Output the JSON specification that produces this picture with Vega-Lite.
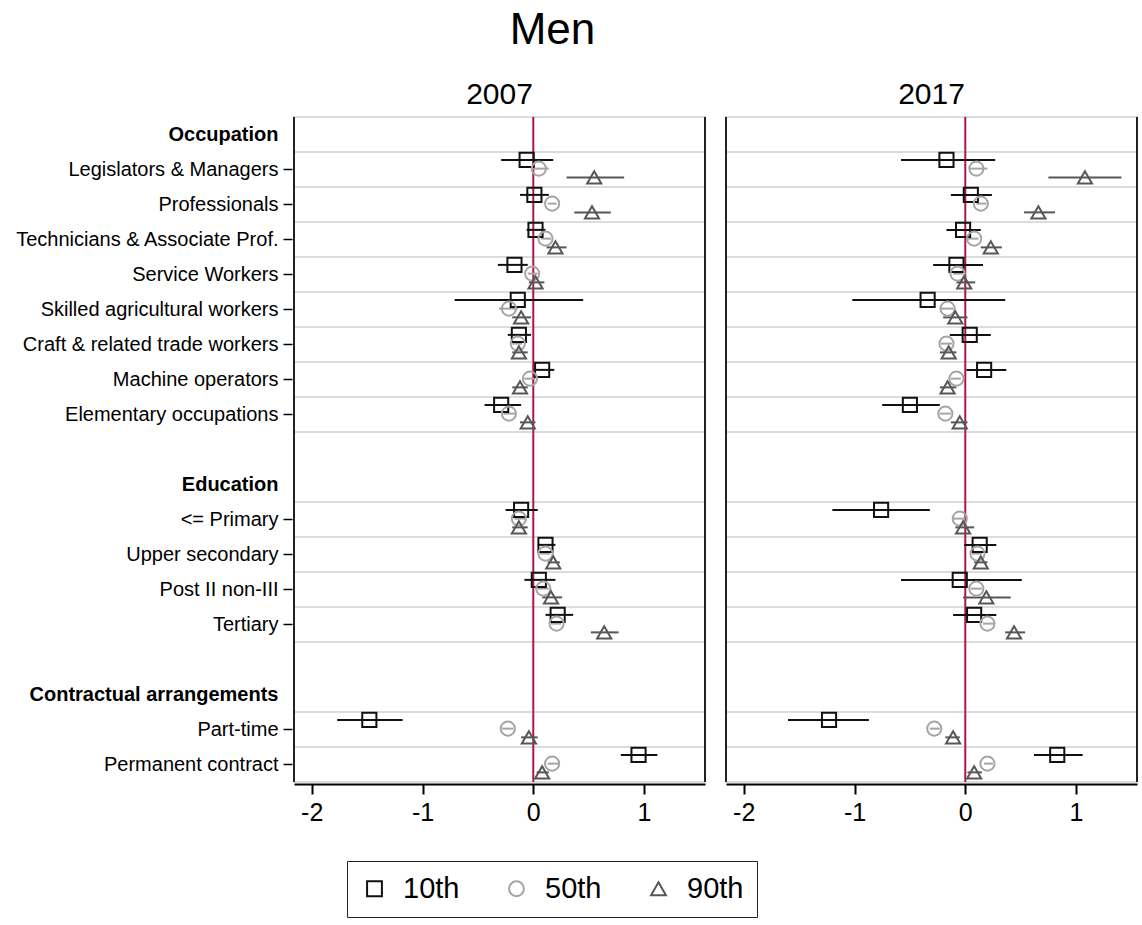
{
  "$schema": "https://vega.github.io/schema/vega-lite/v6.json",
  "padding": {"left": 10, "top": 9, "right": 3, "bottom": 0},
  "title": {"text": "Men", "fontSize": 44, "font": "Liberation Sans, sans-serif", "fontWeight": "normal", "anchor": "middle", "dx": -22, "offset": 27, "color": "black"},
  "config": {"font": "Liberation Sans, sans-serif", "view": {"stroke": "#dddddd", "strokeWidth": 2}},
  "data": {"values": [
    {"year": "2007", "cat": "Legislators & Managers", "pct": "10th", "est": -0.06, "lo": -0.29, "hi": 0.18},
    {"year": "2007", "cat": "Legislators & Managers", "pct": "50th", "est": 0.05, "lo": -0.01, "hi": 0.14},
    {"year": "2007", "cat": "Legislators & Managers", "pct": "90th", "est": 0.55, "lo": 0.30, "hi": 0.82},
    {"year": "2007", "cat": "Professionals", "pct": "10th", "est": 0.01, "lo": -0.12, "hi": 0.14},
    {"year": "2007", "cat": "Professionals", "pct": "50th", "est": 0.17, "lo": 0.13, "hi": 0.21},
    {"year": "2007", "cat": "Professionals", "pct": "90th", "est": 0.53, "lo": 0.37, "hi": 0.70},
    {"year": "2007", "cat": "Technicians & Associate Prof.", "pct": "10th", "est": 0.02, "lo": -0.06, "hi": 0.11},
    {"year": "2007", "cat": "Technicians & Associate Prof.", "pct": "50th", "est": 0.11, "lo": 0.07, "hi": 0.16},
    {"year": "2007", "cat": "Technicians & Associate Prof.", "pct": "90th", "est": 0.20, "lo": 0.12, "hi": 0.30},
    {"year": "2007", "cat": "Service Workers", "pct": "10th", "est": -0.17, "lo": -0.32, "hi": -0.05},
    {"year": "2007", "cat": "Service Workers", "pct": "50th", "est": -0.01, "lo": -0.05, "hi": 0.04},
    {"year": "2007", "cat": "Service Workers", "pct": "90th", "est": 0.02, "lo": -0.04, "hi": 0.10},
    {"year": "2007", "cat": "Skilled agricultural workers", "pct": "10th", "est": -0.14, "lo": -0.71, "hi": 0.45},
    {"year": "2007", "cat": "Skilled agricultural workers", "pct": "50th", "est": -0.22, "lo": -0.31, "hi": -0.14},
    {"year": "2007", "cat": "Skilled agricultural workers", "pct": "90th", "est": -0.11, "lo": -0.19, "hi": -0.02},
    {"year": "2007", "cat": "Craft & related trade workers", "pct": "10th", "est": -0.13, "lo": -0.23, "hi": -0.02},
    {"year": "2007", "cat": "Craft & related trade workers", "pct": "50th", "est": -0.14, "lo": -0.19, "hi": -0.10},
    {"year": "2007", "cat": "Craft & related trade workers", "pct": "90th", "est": -0.13, "lo": -0.19, "hi": -0.05},
    {"year": "2007", "cat": "Machine operators", "pct": "10th", "est": 0.08, "lo": 0.01, "hi": 0.19},
    {"year": "2007", "cat": "Machine operators", "pct": "50th", "est": -0.03, "lo": -0.08, "hi": 0.02},
    {"year": "2007", "cat": "Machine operators", "pct": "90th", "est": -0.12, "lo": -0.19, "hi": -0.05},
    {"year": "2007", "cat": "Elementary occupations", "pct": "10th", "est": -0.29, "lo": -0.44, "hi": -0.11},
    {"year": "2007", "cat": "Elementary occupations", "pct": "50th", "est": -0.22, "lo": -0.27, "hi": -0.16},
    {"year": "2007", "cat": "Elementary occupations", "pct": "90th", "est": -0.05, "lo": -0.12, "hi": 0.02},
    {"year": "2007", "cat": "<= Primary", "pct": "10th", "est": -0.11, "lo": -0.25, "hi": 0.04},
    {"year": "2007", "cat": "<= Primary", "pct": "50th", "est": -0.13, "lo": -0.17, "hi": -0.07},
    {"year": "2007", "cat": "<= Primary", "pct": "90th", "est": -0.13, "lo": -0.19, "hi": -0.05},
    {"year": "2007", "cat": "Upper secondary", "pct": "10th", "est": 0.11, "lo": 0.04, "hi": 0.20},
    {"year": "2007", "cat": "Upper secondary", "pct": "50th", "est": 0.11, "lo": 0.06, "hi": 0.15},
    {"year": "2007", "cat": "Upper secondary", "pct": "90th", "est": 0.18, "lo": 0.13, "hi": 0.24},
    {"year": "2007", "cat": "Post II non-III", "pct": "10th", "est": 0.05, "lo": -0.08, "hi": 0.20},
    {"year": "2007", "cat": "Post II non-III", "pct": "50th", "est": 0.09, "lo": 0.04, "hi": 0.14},
    {"year": "2007", "cat": "Post II non-III", "pct": "90th", "est": 0.16, "lo": 0.08, "hi": 0.26},
    {"year": "2007", "cat": "Tertiary", "pct": "10th", "est": 0.22, "lo": 0.11, "hi": 0.36},
    {"year": "2007", "cat": "Tertiary", "pct": "50th", "est": 0.21, "lo": 0.16, "hi": 0.25},
    {"year": "2007", "cat": "Tertiary", "pct": "90th", "est": 0.64, "lo": 0.52, "hi": 0.77},
    {"year": "2007", "cat": "Part-time", "pct": "10th", "est": -1.48, "lo": -1.77, "hi": -1.18},
    {"year": "2007", "cat": "Part-time", "pct": "50th", "est": -0.23, "lo": -0.28, "hi": -0.18},
    {"year": "2007", "cat": "Part-time", "pct": "90th", "est": -0.04, "lo": -0.11, "hi": 0.04},
    {"year": "2007", "cat": "Permanent contract", "pct": "10th", "est": 0.95, "lo": 0.79, "hi": 1.12},
    {"year": "2007", "cat": "Permanent contract", "pct": "50th", "est": 0.17, "lo": 0.13, "hi": 0.23},
    {"year": "2007", "cat": "Permanent contract", "pct": "90th", "est": 0.08, "lo": 0.03, "hi": 0.14},
    {"year": "2017", "cat": "Legislators & Managers", "pct": "10th", "est": -0.17, "lo": -0.58, "hi": 0.27},
    {"year": "2017", "cat": "Legislators & Managers", "pct": "50th", "est": 0.10, "lo": 0.04, "hi": 0.20},
    {"year": "2017", "cat": "Legislators & Managers", "pct": "90th", "est": 1.08, "lo": 0.75, "hi": 1.41},
    {"year": "2017", "cat": "Professionals", "pct": "10th", "est": 0.05, "lo": -0.13, "hi": 0.24},
    {"year": "2017", "cat": "Professionals", "pct": "50th", "est": 0.14, "lo": 0.10, "hi": 0.19},
    {"year": "2017", "cat": "Professionals", "pct": "90th", "est": 0.66, "lo": 0.53, "hi": 0.81},
    {"year": "2017", "cat": "Technicians & Associate Prof.", "pct": "10th", "est": -0.02, "lo": -0.17, "hi": 0.14},
    {"year": "2017", "cat": "Technicians & Associate Prof.", "pct": "50th", "est": 0.08, "lo": 0.02, "hi": 0.12},
    {"year": "2017", "cat": "Technicians & Associate Prof.", "pct": "90th", "est": 0.23, "lo": 0.14, "hi": 0.33},
    {"year": "2017", "cat": "Service Workers", "pct": "10th", "est": -0.08, "lo": -0.29, "hi": 0.16},
    {"year": "2017", "cat": "Service Workers", "pct": "50th", "est": -0.07, "lo": -0.11, "hi": -0.02},
    {"year": "2017", "cat": "Service Workers", "pct": "90th", "est": -0.01, "lo": -0.08, "hi": 0.09},
    {"year": "2017", "cat": "Skilled agricultural workers", "pct": "10th", "est": -0.34, "lo": -1.02, "hi": 0.36},
    {"year": "2017", "cat": "Skilled agricultural workers", "pct": "50th", "est": -0.16, "lo": -0.22, "hi": -0.11},
    {"year": "2017", "cat": "Skilled agricultural workers", "pct": "90th", "est": -0.09, "lo": -0.20, "hi": 0.02},
    {"year": "2017", "cat": "Craft & related trade workers", "pct": "10th", "est": 0.04, "lo": -0.14, "hi": 0.23},
    {"year": "2017", "cat": "Craft & related trade workers", "pct": "50th", "est": -0.17, "lo": -0.22, "hi": -0.12},
    {"year": "2017", "cat": "Craft & related trade workers", "pct": "90th", "est": -0.15, "lo": -0.23, "hi": -0.08},
    {"year": "2017", "cat": "Machine operators", "pct": "10th", "est": 0.17, "lo": 0.01, "hi": 0.37},
    {"year": "2017", "cat": "Machine operators", "pct": "50th", "est": -0.08, "lo": -0.13, "hi": -0.04},
    {"year": "2017", "cat": "Machine operators", "pct": "90th", "est": -0.16, "lo": -0.23, "hi": -0.08},
    {"year": "2017", "cat": "Elementary occupations", "pct": "10th", "est": -0.50, "lo": -0.75, "hi": -0.23},
    {"year": "2017", "cat": "Elementary occupations", "pct": "50th", "est": -0.18, "lo": -0.23, "hi": -0.13},
    {"year": "2017", "cat": "Elementary occupations", "pct": "90th", "est": -0.05, "lo": -0.13, "hi": 0.02},
    {"year": "2017", "cat": "<= Primary", "pct": "10th", "est": -0.76, "lo": -1.20, "hi": -0.32},
    {"year": "2017", "cat": "<= Primary", "pct": "50th", "est": -0.05, "lo": -0.11, "hi": 0.00},
    {"year": "2017", "cat": "<= Primary", "pct": "90th", "est": -0.02, "lo": -0.09, "hi": 0.08},
    {"year": "2017", "cat": "Upper secondary", "pct": "10th", "est": 0.13, "lo": -0.01, "hi": 0.28},
    {"year": "2017", "cat": "Upper secondary", "pct": "50th", "est": 0.11, "lo": 0.06, "hi": 0.15},
    {"year": "2017", "cat": "Upper secondary", "pct": "90th", "est": 0.14, "lo": 0.08, "hi": 0.20},
    {"year": "2017", "cat": "Post II non-III", "pct": "10th", "est": -0.05, "lo": -0.58, "hi": 0.51},
    {"year": "2017", "cat": "Post II non-III", "pct": "50th", "est": 0.10, "lo": 0.05, "hi": 0.15},
    {"year": "2017", "cat": "Post II non-III", "pct": "90th", "est": 0.19, "lo": -0.02, "hi": 0.41},
    {"year": "2017", "cat": "Tertiary", "pct": "10th", "est": 0.08, "lo": -0.11, "hi": 0.28},
    {"year": "2017", "cat": "Tertiary", "pct": "50th", "est": 0.20, "lo": 0.16, "hi": 0.26},
    {"year": "2017", "cat": "Tertiary", "pct": "90th", "est": 0.44, "lo": 0.36, "hi": 0.54},
    {"year": "2017", "cat": "Part-time", "pct": "10th", "est": -1.23, "lo": -1.60, "hi": -0.87},
    {"year": "2017", "cat": "Part-time", "pct": "50th", "est": -0.28, "lo": -0.32, "hi": -0.23},
    {"year": "2017", "cat": "Part-time", "pct": "90th", "est": -0.11, "lo": -0.18, "hi": -0.05},
    {"year": "2017", "cat": "Permanent contract", "pct": "10th", "est": 0.83, "lo": 0.62, "hi": 1.06},
    {"year": "2017", "cat": "Permanent contract", "pct": "50th", "est": 0.20, "lo": 0.17, "hi": 0.25},
    {"year": "2017", "cat": "Permanent contract", "pct": "90th", "est": 0.08, "lo": 0.02, "hi": 0.15}
  ]},
  "facet": {"column": {"field": "year", "type": "nominal", "header": {"title": null, "labelFontSize": 30, "labelPadding": 5, "labelColor": "black"}}},
  "spacing": 17,
  "spec": {
    "width": 411,
    "height": 665,
    "layer": [
      {
        "transform": [{"filter": "datum.pct == '10th'"}],
        "mark": {"type": "rule", "color": "#dcdcdc", "strokeWidth": 2},
        "encoding": {
          "y": {"field": "cat", "type": "nominal", "bandPosition": 0, "title": null,
            "scale": {"domain": ["Occupation", "Legislators & Managers", "Professionals", "Technicians & Associate Prof.", "Service Workers", "Skilled agricultural workers", "Craft & related trade workers", "Machine operators", "Elementary occupations", " ", "Education", "<= Primary", "Upper secondary", "Post II non-III", "Tertiary", "  ", "Contractual arrangements", "Part-time", "Permanent contract"], "paddingInner": 0, "paddingOuter": 0},
            "axis": {"title": null, "domain": false, "grid": false, "tickSize": 9, "tickWidth": 1.5, "tickColor": "black",
              "tickOpacity": {"condition": {"test": "indexof(['Occupation','Education','Contractual arrangements',' ','  '], datum.value) >= 0", "value": 0}, "value": 1},
              "labelFontWeight": {"condition": {"test": "indexof(['Occupation','Education','Contractual arrangements'], datum.value) >= 0", "value": "bold"}, "value": "normal"},
              "labelFontSize": 20, "labelColor": "black", "labelPadding": 5, "minExtent": 282, "maxExtent": 282, "labelLimit": 400}}
        }
      },
      {
        "transform": [{"filter": "datum.pct == '10th'"}],
        "mark": {"type": "rule", "color": "#dcdcdc", "strokeWidth": 2},
        "encoding": {
          "y": {"field": "cat", "type": "nominal", "bandPosition": 1, "title": null}
        }
      },
      {
        "transform": [{"filter": "datum.pct == '10th' && datum.cat == 'Part-time'"}],
        "mark": {"type": "rule", "color": "#b3124b", "strokeWidth": 2},
        "encoding": {"x": {"datum": 0, "type": "quantitative"}}
      },
      {
        "transform": [{"filter": "datum.pct == '10th' && datum.cat == 'Part-time'"}],
        "mark": {"type": "rule", "color": "#222222", "strokeWidth": 2},
        "encoding": {"x": {"datum": -2.16, "type": "quantitative"}}
      },
      {
        "transform": [{"filter": "datum.pct == '10th' && datum.cat == 'Part-time'"}],
        "mark": {"type": "rule", "color": "#222222", "strokeWidth": 2},
        "encoding": {"x": {"datum": 1.55, "type": "quantitative"}}
      },
      {
        "mark": {"type": "rule", "strokeWidth": 2},
        "encoding": {
          "x": {"field": "lo", "type": "quantitative", "title": null},
          "x2": {"field": "hi"},
          "y": {"field": "cat", "type": "nominal", "title": null},
          "yOffset": {"field": "pct", "type": "nominal", "scale": {"domain": ["10th", "50th", "90th"], "paddingInner": 0, "paddingOuter": 0.5, "align": 0.4}},
          "color": {"field": "pct", "type": "nominal", "scale": {"domain": ["10th", "50th", "90th"], "range": ["#111111", "#a5a5a5", "#575757"]}}
        }
      },
      {
        "mark": {"type": "point", "filled": false, "strokeWidth": 2, "size": 200, "opacity": 1},
        "encoding": {
          "x": {"field": "est", "type": "quantitative", "title": null,
            "scale": {"domain": [-2.16, 1.55], "nice": false, "zero": false},
            "axis": {"title": null, "values": [-2, -1, 0, 1], "labelExpr": "toString(datum.value)", "domainColor": "black", "domainWidth": 2, "tickColor": "black", "tickWidth": 2, "tickSize": 10, "labelFontSize": 25, "labelColor": "black", "labelPadding": 6, "grid": false, "labelFlush": false}},
          "y": {"field": "cat", "type": "nominal", "title": null},
          "yOffset": {"field": "pct", "type": "nominal"},
          "color": {"field": "pct", "type": "nominal",
            "legend": {"title": null, "orient": "none", "legendX": 53, "legendY": 744, "direction": "horizontal", "strokeColor": "#222222", "padding": 13, "labelFontSize": 29, "labelColor": "black", "symbolSize": 220, "symbolStrokeWidth": 2, "labelOffset": 14, "columnPadding": 42}},
          "shape": {"field": "pct", "type": "nominal", "scale": {"domain": ["10th", "50th", "90th"], "range": ["square", "circle", "triangle-up"]}}
        }
      }
    ]
  }
}
